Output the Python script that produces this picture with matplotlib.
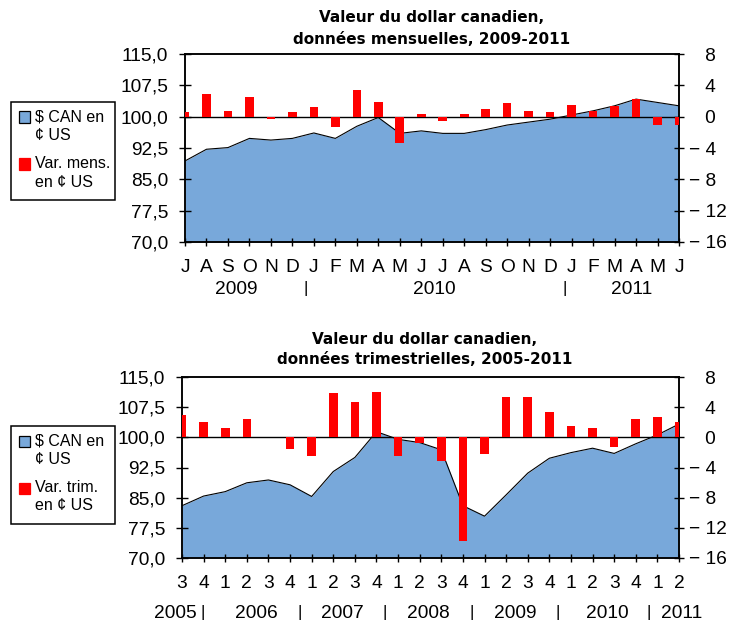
import matplotlib
matplotlib.use('Agg')
import matplotlib.pyplot as plt
from matplotlib.patches import Rectangle
from matplotlib.transforms import blended_transform_factory

plt.rcParams['font.family'] = ['Liberation Sans', 'DejaVu Sans']

# Monthly data, July 2009 - June 2011 (US cents per CAD and monthly change)
month_labels = ['J', 'A', 'S', 'O', 'N', 'D', 'J', 'F', 'M', 'A', 'M', 'J',
                'J', 'A', 'S', 'O', 'N', 'D', 'J', 'F', 'M', 'A', 'M', 'J']
month_cad = [89.4, 92.2, 92.6, 94.8, 94.4, 94.8, 96.1, 94.8, 97.7, 99.8,
             96.0, 96.6, 96.0, 96.0, 96.9, 98.0, 98.7, 99.4, 100.4, 101.4,
             102.6, 104.2, 103.4, 102.6]
month_var = [0.55, 2.85, 0.75, 2.55, -0.35, 0.55, 1.2, -1.3, 3.35, 1.9,
             -3.4, 0.35, -0.55, 0.35, 1.0, 1.7, 0.75, 0.55, 1.45, 0.75,
             1.3, 2.2, -1.05, -1.05]
month_years = ['2009', '|', '2010', '|', '2011']

# Quarterly data, 2005 Q3 - 2011 Q2
quarter_labels = ['3', '4', '1', '2', '3', '4', '1', '2', '3', '4', '1', '2',
                  '3', '4', '1', '2', '3', '4', '1', '2', '3', '4', '1', '2']
quarter_cad = [83.0, 85.4, 86.5, 88.7, 89.4, 88.2, 85.3, 91.5, 95.0, 101.4,
               99.5, 98.7, 96.9, 83.0, 80.4, 85.7, 91.1, 94.8, 96.2, 97.3,
               96.0, 98.4, 100.6, 103.3]
quarter_var = [2.96, 1.99, 1.28, 2.48, 0.1, -1.55, -2.48, 5.84, 4.65, 6.06,
               -2.48, -0.71, -3.14, -13.76, -2.26, 5.4, 5.4, 3.41, 1.55, 1.28,
               -1.28, 2.48, 2.74, 1.99]
quarter_years = ['2005', '|', '2006', '|', '2007', '|', '2008', '|', '2009',
                 '|', '2010', '|', '2011']

left_ticks = [70.0, 77.5, 85.0, 92.5, 100.0, 107.5, 115.0]
right_ticks = [-16, -12, -8, -4, 0, 4, 8]

AREA_COLOR = '#78A8DA'
BAR_COLOR = '#FF0000'
W, H = 742, 624
TICK_FS = 13.8


def fx(px):
    return px / W


def fy(py):
    return 1 - py / H


def right_label(v):
    if v < 0:
        return '\u2212 {}'.format(abs(v))
    return '   {}'.format(v)


def draw_panel(fig, box, values, changes, labels, years, year_pos, rows):
    left, top, right, bottom = box
    ax = fig.add_axes([fx(left), fy(bottom), fx(right - left),
                       (bottom - top) / H])
    x = list(range(len(values)))
    ax.fill_between(x, 70, values, color=AREA_COLOR, lw=0, zorder=1)
    ax.plot(x, values, color='black', lw=0.8, zorder=2)
    ax.set_xlim(0, len(values) - 1)
    ax.set_ylim(70, 115)
    ax.set_yticks(left_ticks)
    ax.set_yticklabels(['{:.1f}'.format(v).replace('.', ',')
                        for v in left_ticks])
    ax.set_xticks(x)
    ax.set_xticklabels(labels)
    ax.tick_params(axis='y', direction='inout', length=8, width=1,
                   pad=8, labelsize=TICK_FS, colors='black')
    ax.tick_params(axis='x', direction='inout', length=6, width=1,
                   pad=9.5, labelsize=TICK_FS, colors='black')

    ax2 = ax.twinx()
    ax2.bar(x, changes, width=0.4, color=BAR_COLOR, zorder=3)
    ax2.axhline(0, color='black', lw=1, zorder=2)
    ax2.set_ylim(-16, 8)
    ax2.set_yticks(right_ticks)
    ax2.set_yticklabels([right_label(v) for v in right_ticks])
    ax2.tick_params(axis='y', direction='inout', length=7, width=1,
                    pad=4, labelsize=TICK_FS, colors='black')
    for a in (ax, ax2):
        for s in a.spines.values():
            s.set_color('black')
            s.set_linewidth(1.1)

    trans = blended_transform_factory(ax.transData, fig.transFigure)
    for name, pos in zip(years, year_pos):
        if name == '|':
            ax.text(pos, fy(rows - 1.5), name, transform=trans, ha='center',
                    va='center', fontsize=12, color='black')
        else:
            ax.text(pos, fy(rows), name, transform=trans, ha='center',
                    va='center', fontsize=TICK_FS, color='black')
    return ax


def draw_legend(fig, top, lines):
    left, right, height = 10.7, 115, 98
    fig.patches.append(Rectangle((fx(left), fy(top + height)),
                                 fx(right - left), height / H,
                                 transform=fig.transFigure, fill=True,
                                 facecolor='white', edgecolor='black',
                                 lw=1.1))
    for (first, second), color, dy, edge in zip(lines,
                                                [AREA_COLOR, BAR_COLOR],
                                                [15, 62],
                                                ['black', BAR_COLOR]):
        fig.patches.append(Rectangle((fx(18.5), fy(top + dy + 5.5)),
                                     fx(11), 11 / H,
                                     transform=fig.transFigure,
                                     facecolor=color, edgecolor=edge,
                                     lw=0.9))
        fig.text(fx(35), fy(top + dy), first, ha='left', va='center',
                 fontsize=11.5)
        fig.text(fx(35), fy(top + dy + 18), second, ha='left', va='center',
                 fontsize=11.5)


fig = plt.figure(figsize=(W / 100, H / 100), dpi=100)

draw_panel(fig, (185, 54, 679, 242), month_cad, month_var, month_labels,
           month_years, [2.4, 5.6, 11.6, 17.7, 20.8], 290)
draw_panel(fig, (182, 377, 679, 558), quarter_cad, quarter_var,
           quarter_labels, quarter_years,
           [-0.3, 0.95, 3.45, 5.45, 7.4, 9.4, 11.4, 13.4, 15.4, 17.4, 19.7,
            21.6, 23.1], 614)

title_kw = dict(ha='center', va='center', fontsize=11, fontweight='bold',
                family='DejaVu Sans')
fig.text(fx(432), fy(17), 'Valeur du dollar canadien,', **title_kw)
fig.text(fx(432), fy(39), 'données mensuelles, 2009-2011', **title_kw)
fig.text(fx(425), fy(339), 'Valeur du dollar canadien,', **title_kw)
fig.text(fx(425), fy(360), 'données trimestrielles, 2005-2011', **title_kw)

draw_legend(fig, 102, [('$ CAN en', '¢ US'), ('Var. mens.', 'en ¢ US')])
draw_legend(fig, 426, [('$ CAN en', '¢ US'), ('Var. trim.', 'en ¢ US')])

fig.savefig('out.png', dpi=100)
